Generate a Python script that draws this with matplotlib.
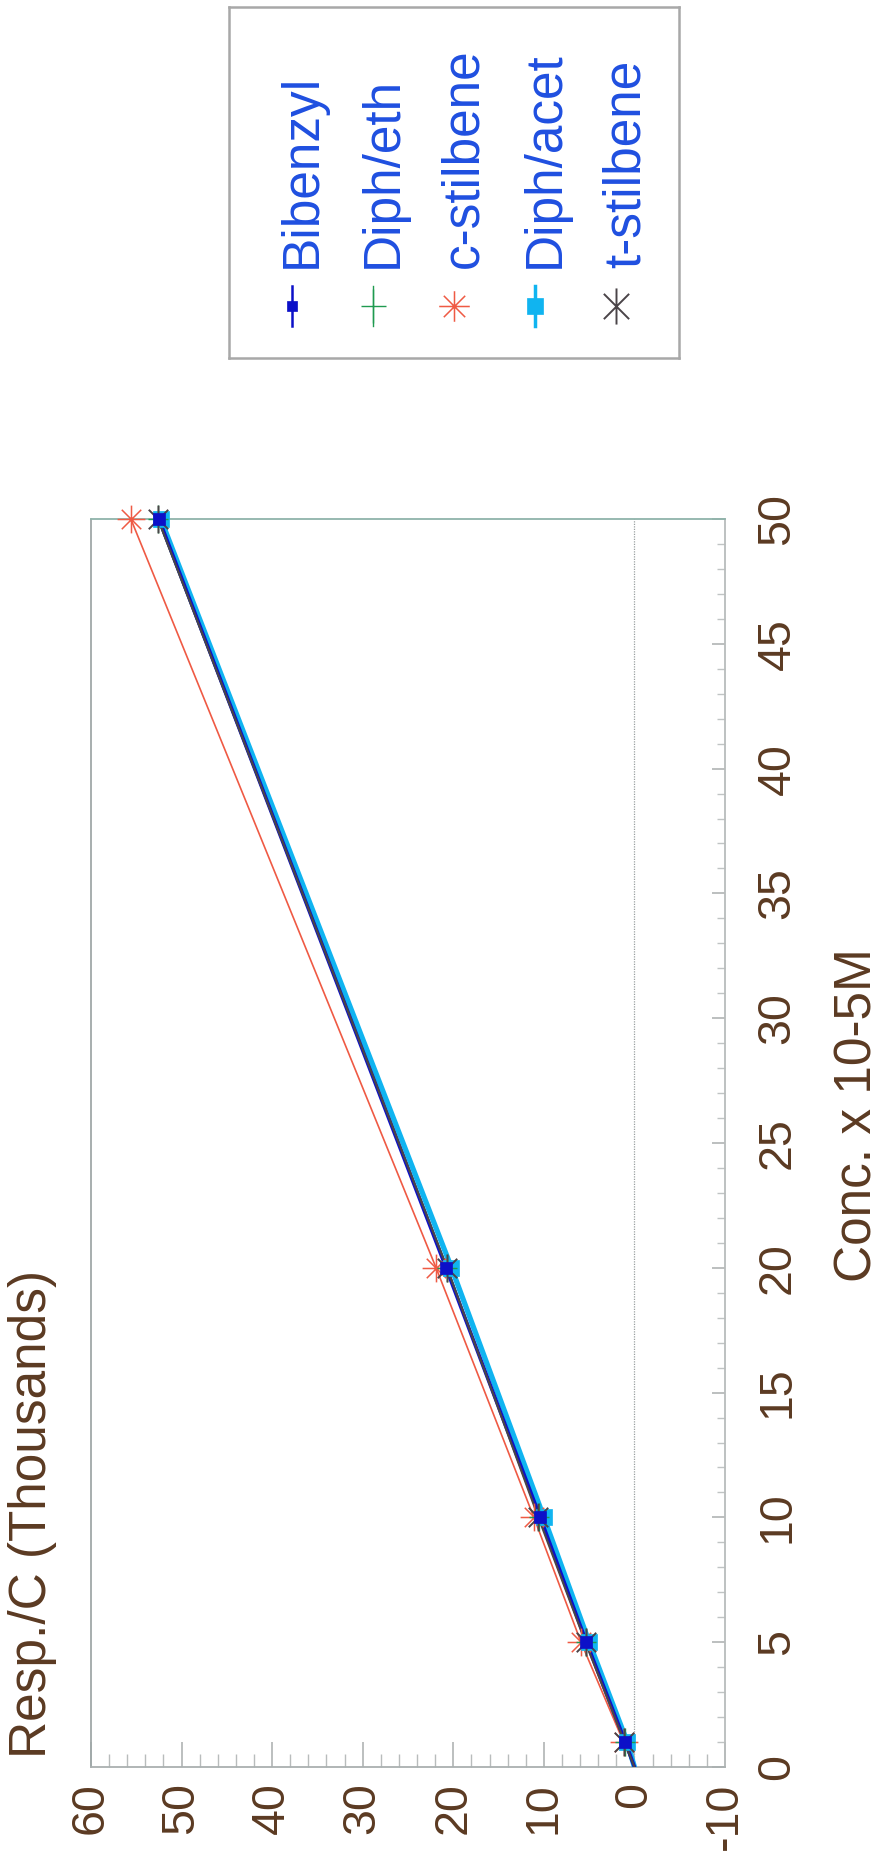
import matplotlib
matplotlib.use("Agg")
import matplotlib.pyplot as plt
from matplotlib.path import Path
from matplotlib.ticker import MultipleLocator

plt.rcParams['font.family'] = ['Liberation Sans', 'DejaVu Sans']

# ---- data ----
conc = [0, 1, 5, 10, 20, 50]
bibenzyl = [0.0, 1.0, 5.3, 10.4, 20.8, 52.5]
diph_eth = [0.0, 1.0, 5.3, 10.5, 20.7, 52.6]
c_stilbene = [0.0, 1.2, 5.9, 11.1, 21.9, 55.6]
diph_acet = [0.0, 0.8, 5.0, 10.0, 20.2, 52.3]
t_stilbene = [0.0, 1.1, 5.4, 10.6, 20.7, 52.6]
series_names = ['Bibenzyl', 'Diph/eth', 'c-stilbene', 'Diph/acet', 't-stilbene']
resp_ticks = [60, 50, 40, 30, 20, 10, 0, -10]
conc_ticks = [0, 5, 10, 15, 20, 25, 30, 35, 40, 45, 50]

W, H = 883, 1861
fig = plt.figure(figsize=(W / 100, H / 100), dpi=100)

L, R, T, B = 91, 725, 519, 1767
ax = fig.add_axes([L / W, 1 - B / H, (R - L) / W, (B - T) / H])

# custom markers (as seen on the rotated page)
MV, LT = Path.MOVETO, Path.LINETO
star_t = Path([(0, -1), (0, 1), (-0.7, -0.7), (0.7, 0.7), (-0.7, 0.7), (0.7, -0.7)],
              [MV, LT, MV, LT, MV, LT])
star_c = Path([(-1, 0), (1, 0), (0, -1), (0, 1), (-0.7, -0.7), (0.7, 0.7), (-0.7, 0.7), (0.7, -0.7)],
              [MV, LT, MV, LT, MV, LT, MV, LT])
plus_g = Path([(0, -1), (0, 1), (-0.75, 0), (0.75, 0)], [MV, LT, MV, LT])

col_bib = '#0c10c8'
col_eth = '#1f9a50'
col_cst = '#ef5a44'
col_ace = '#10b4f0'
col_tst = '#4a4448'

styles = [
    # name, data, color, lw, marker, ms, mew, zorder
    ('c-stilbene', c_stilbene, col_cst, 1.2, star_c, 20, 1.1, 3),
    ('Diph/acet', diph_acet, col_ace, 3.8, 's', 12, 0.5, 4),
    ('Diph/eth', diph_eth, col_eth, 1.4, plus_g, 20, 1.0, 5),
    ('Bibenzyl', bibenzyl, col_bib, 2.6, 's', 8, 0.5, 6),
    ('t-stilbene', t_stilbene, col_tst, 1.6, star_t, 20, 1.4, 7),
]
for name, vals, c, lw, mk, ms, mew, z in styles:
    ax.plot(vals, conc, color=c, lw=lw, zorder=z, clip_on=True)
for name, vals, c, lw, mk, ms, mew, z in styles:
    zz = 20 if name == 'Bibenzyl' else 10 + z
    ax.plot(vals[1:], conc[1:], ls='none', marker=mk, ms=ms, mew=mew,
            mfc=c, mec=c, zorder=zz, clip_on=False)

ax.axvline(0, color='#9aa0a0', lw=0.9, ls=(0, (1, 1)), zorder=1)

ax.set_xlim(60, -10)
ax.set_ylim(0, 50)

# spines
ax.spines['left'].set_color('#a0a8a8')
ax.spines['left'].set_linestyle((0, (1, 1)))
ax.spines['top'].set_color('#8fb3aa')
ax.spines['right'].set_color('#b8bcbc')
ax.spines['bottom'].set_color('#aab0b0')
for s in ax.spines.values():
    s.set_linewidth(1.3)

tick_col = '#5b3a22'
ax.set_xticks(resp_ticks)
ax.set_xticklabels([str(t) for t in resp_ticks])
ax.xaxis.set_minor_locator(MultipleLocator(2))
ax.tick_params(axis='x', which='major', direction='in', length=18, width=1.2,
               color='#b0b4b4', pad=11, labelsize=33.5, labelcolor=tick_col,
               labelrotation=90)
ax.tick_params(axis='x', which='minor', direction='in', length=9.5, width=1.0,
               color='#b8bcbc')

ax.yaxis.tick_right()
ax.set_yticks(conc_ticks)
ax.set_yticklabels([str(t) for t in conc_ticks])
ax.yaxis.set_minor_locator(MultipleLocator(1))
ax.tick_params(axis='y', which='major', direction='in', length=9.5, width=1.2,
               color='#b0b4b4', pad=22, labelsize=33.5, labelcolor=tick_col,
               labelrotation=90)
ax.tick_params(axis='y', which='minor', direction='in', length=6, width=1.0,
               color='#c0c4c4')
for lab in ax.get_yticklabels():
    lab.set_verticalalignment('center')
    lab.set_horizontalalignment('left')

ax.yaxis.set_label_position('right')
ax.set_ylabel('Conc. x 10-5M', fontsize=37, color=tick_col, rotation=90,
              ha='center', va='center')
ax.yaxis.set_label_coords((858 - L) / (R - L), (B - 1115) / (B - T))

fig.text(33 / W, 1 - 1758 / H, 'Resp./C (Thousands)', fontsize=37, color=tick_col,
         rotation=90, ha='center', va='bottom')

# ---- legend (rotated) ----
LX0, LX1, LY0, LY1 = 229, 679, 7, 358
lax = fig.add_axes([LX0 / W, 1 - LY1 / H, (LX1 - LX0) / W, (LY1 - LY0) / H])
lax.set_xlim(LX0, LX1)
lax.set_ylim(LY1, LY0)
lax.set_xticks([])
lax.set_yticks([])
for s in lax.spines.values():
    s.set_color('#a8a8a8')
    s.set_linewidth(1.8)

leg_style = {
    'Bibenzyl': (col_bib, 1.8, 's', 7, 0.5, True),
    'Diph/eth': (col_eth, 1.0, plus_g, 24, 1.0, True),
    'c-stilbene': (col_cst, 1.0, star_c, 22, 1.1, False),
    'Diph/acet': (col_ace, 2.5, 's', 11, 0.5, True),
    't-stilbene': (col_tst, 1.0, star_t, 26, 1.4, False),
}
x0, dx = 292, 81
for i, name in enumerate(series_names):
    c, lw, mk, ms, mew, line = leg_style[name]
    x = x0 + dx * i
    if line:
        lax.plot([x, x], [286, 326], color=c, lw=lw)
    lax.plot([x], [306], marker=mk, ms=ms, mew=mew, mfc=c, mec=c, ls='none')
    lax.text(x + 10, 268, name, rotation=90, ha='center', va='bottom',
             fontsize=37, color='#1f4fe0')

fig.savefig('out.png', dpi=100, facecolor='white')
